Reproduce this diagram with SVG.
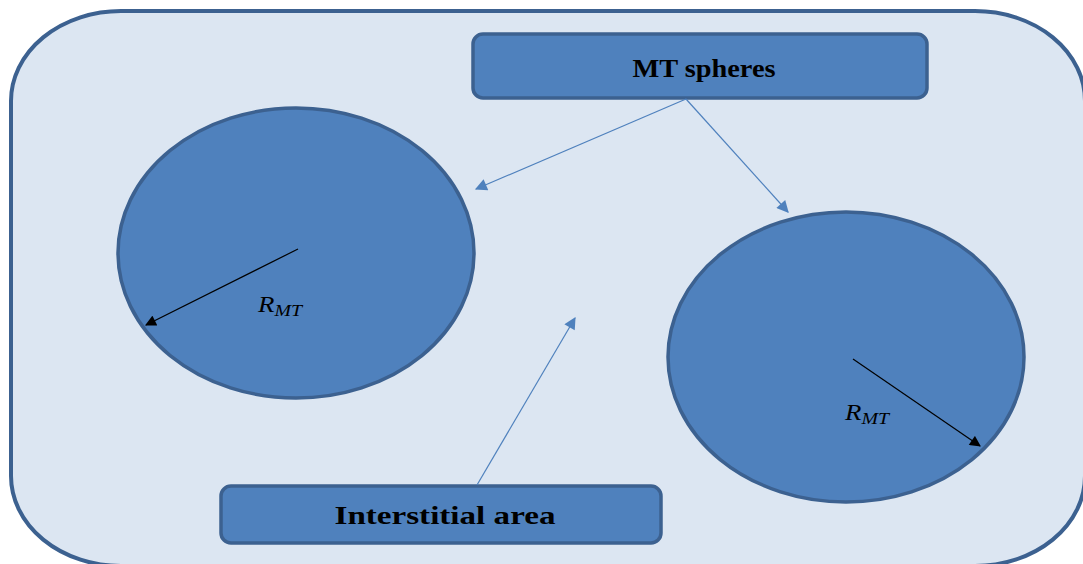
<svg xmlns="http://www.w3.org/2000/svg" width="1083" height="564" viewBox="0 0 1083 564">
  <style>
    .panel { fill: #DCE6F2; stroke: #3C6190; stroke-width: 4; }
    .shape { fill: #4F81BD; stroke: #3C6190; stroke-width: 3.5; }
    .label { font-family: "Liberation Serif", "Times New Roman", serif; font-weight: bold; fill: #000; }
    .math { font-family: "Liberation Serif", "Times New Roman", serif; font-style: italic; fill: #000; }
    .link { stroke: #4F81BD; stroke-width: 1.2; fill: none; marker-end: url(#blueHead); }
    .radius { stroke: #000; stroke-width: 1.2; fill: none; marker-end: url(#blackHead); }
  </style>
  <defs>
    <marker id="blueHead" viewBox="0 0 10 10" refX="9" refY="5" markerWidth="14" markerHeight="12" markerUnits="userSpaceOnUse" orient="auto">
      <path d="M0,0 L10,5 L0,10 z" fill="#4F81BD"/>
    </marker>
    <marker id="blackHead" viewBox="0 0 10 10" refX="9" refY="5" markerWidth="13" markerHeight="11" markerUnits="userSpaceOnUse" orient="auto">
      <path d="M0,0 L10,5 L0,10 z" fill="#000"/>
    </marker>
  </defs>

  <rect width="1083" height="564" fill="#FFFFFF"/>

  <!-- outer region -->
  <g id="region">
    <rect class="panel" x="11" y="11" width="1074" height="555" rx="110" ry="90"/>
  </g>

  <!-- spheres -->
  <g id="sphere-left">
    <ellipse class="shape" cx="296" cy="253" rx="178" ry="145"/>
  </g>
  <g id="sphere-right">
    <ellipse class="shape" cx="846" cy="357" rx="178" ry="145"/>
  </g>

  <!-- label boxes -->
  <g id="mt-spheres">
    <rect class="shape" x="473" y="34" width="454" height="64" rx="10"/>
    <text class="label" x="704" y="77" font-size="25" text-anchor="middle" textLength="143" lengthAdjust="spacingAndGlyphs">MT spheres</text>
  </g>
  <g id="interstitial-area">
    <rect class="shape" x="221" y="486" width="440" height="57" rx="10"/>
    <text class="label" x="445" y="524" font-size="26" text-anchor="middle" textLength="221" lengthAdjust="spacingAndGlyphs">Interstitial area</text>
  </g>

  <!-- connectors -->
  <g id="connectors">
    <line class="link" x1="686" y1="99" x2="476" y2="189"/>
    <line class="link" x1="686" y1="99" x2="788" y2="212"/>
    <line class="link" x1="477" y1="485" x2="575" y2="318"/>
    <line class="radius" x1="298" y1="249" x2="146" y2="325"/>
    <line class="radius" x1="853" y1="359" x2="980" y2="446"/>
  </g>

  <!-- radius labels -->
  <g id="radius-labels">
    <text class="math" x="258" y="312" font-size="23" textLength="44" lengthAdjust="spacingAndGlyphs">R<tspan font-size="17" dy="4">MT</tspan></text>
    <text class="math" x="845" y="420" font-size="23" textLength="44" lengthAdjust="spacingAndGlyphs">R<tspan font-size="17" dy="4">MT</tspan></text>
  </g>
</svg>
